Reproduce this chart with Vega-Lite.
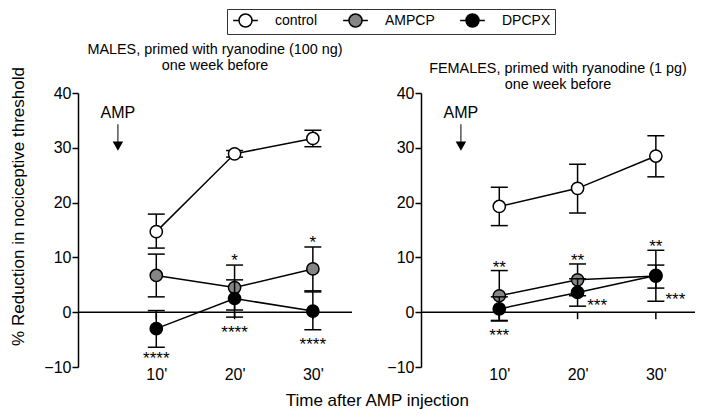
{
  "$schema": "https://vega.github.io/schema/vega-lite/v6.json",
  "background": "white",
  "autosize": {"type": "pad"},
  "padding": {"left": 8, "top": 8, "right": 0, "bottom": 0},
  "config": {
    "font": "Liberation Sans",
    "view": {"stroke": null},
    "axis": {"grid": false, "labelColor": "black", "labelFontSize": 16, "titleColor": "black", "titleFontWeight": "normal", "labelFont": "Liberation Sans", "titleFont": "Liberation Sans", "labelOverlap": false},
    "axisX": {"domain": false, "ticks": false, "tickSize": 0, "labelPadding": -1},
    "axisY": {"domainColor": "black", "domainWidth": 1.5, "tickColor": "black", "tickWidth": 1.5, "tickSize": 6, "labelPadding": 1},
    "title": {"fontSize": 14.4, "fontWeight": "normal", "color": "black", "font": "Liberation Sans"}
  },
  "datasets": {
    "series": [
      {"sex": "M", "group": "control", "t": 10, "mean": 14.7, "lo": 11.7, "hi": 17.9},
      {"sex": "M", "group": "control", "t": 20, "mean": 28.9, "lo": 28.3, "hi": 29.5},
      {"sex": "M", "group": "control", "t": 30, "mean": 31.7, "lo": 30.2, "hi": 33.2},
      {"sex": "M", "group": "AMPCP", "t": 10, "mean": 6.7, "lo": 2.8, "hi": 10.6},
      {"sex": "M", "group": "AMPCP", "t": 20, "mean": 4.5, "lo": 0.4, "hi": 8.6},
      {"sex": "M", "group": "AMPCP", "t": 30, "mean": 7.9, "lo": 3.9, "hi": 11.9},
      {"sex": "M", "group": "DPCPX", "t": 10, "mean": -3.0, "lo": -6.4, "hi": 0.3},
      {"sex": "M", "group": "DPCPX", "t": 20, "mean": 2.5, "lo": -0.9, "hi": 5.9},
      {"sex": "M", "group": "DPCPX", "t": 30, "mean": 0.2, "lo": -3.2, "hi": 3.7},
      {"sex": "F", "group": "control", "t": 10, "mean": 19.3, "lo": 15.8, "hi": 22.8},
      {"sex": "F", "group": "control", "t": 20, "mean": 22.6, "lo": 18.1, "hi": 27.0},
      {"sex": "F", "group": "control", "t": 30, "mean": 28.5, "lo": 24.7, "hi": 32.2},
      {"sex": "F", "group": "AMPCP", "t": 10, "mean": 3.0, "lo": -1.6, "hi": 7.6},
      {"sex": "F", "group": "AMPCP", "t": 20, "mean": 5.9, "lo": 3.0, "hi": 8.8},
      {"sex": "F", "group": "AMPCP", "t": 30, "mean": 6.6, "lo": 2.0, "hi": 11.3},
      {"sex": "F", "group": "DPCPX", "t": 10, "mean": 0.6, "lo": -1.5, "hi": 2.8},
      {"sex": "F", "group": "DPCPX", "t": 20, "mean": 3.6, "lo": 1.1, "hi": 6.1},
      {"sex": "F", "group": "DPCPX", "t": 30, "mean": 6.7, "lo": 4.4, "hi": 8.6}
    ],
    "ref": [
      {"t": 10, "zero": 0},
      {"t": 20, "zero": 0},
      {"t": 30, "zero": 0}
    ],
    "stars": [
      {"sex": "M", "t": 20, "y": 10.2, "label": "*"},
      {"sex": "M", "t": 30, "y": 13.5, "label": "*"},
      {"sex": "M", "t": 10, "y": -7.7, "label": "****"},
      {"sex": "M", "t": 20, "y": -2.9, "label": "****"},
      {"sex": "M", "t": 30, "y": -5.0, "label": "****"},
      {"sex": "F", "t": 10, "y": 9.0, "label": "**"},
      {"sex": "F", "t": 20, "y": 10.2, "label": "**"},
      {"sex": "F", "t": 30, "y": 12.9, "label": "**"},
      {"sex": "F", "t": 10, "y": -3.4, "label": "***"},
      {"sex": "F", "t": 22.5, "y": 2.0, "label": "***"},
      {"sex": "F", "t": 32.5, "y": 3.1, "label": "***"}
    ],
    "amp": [
      {"t": 5.1, "ty": 36.5, "a": 34.3, "b": 31.0, "tip": 30.3, "label": "AMP"}
    ]
  },
  "title": {"text": "Time after AMP injection", "orient": "bottom", "anchor": "middle", "fontSize": 17, "offset": 11, "dx": 25},
  "hconcat": [
    {
      "width": 274, "height": 274,
      "title": {"text": ["MALES, primed with ryanodine (100 ng)", "one week before"], "lineHeight": 16, "offset": -7, "anchor": "middle"},
      "layer": [
        {"data": {"name": "series"}, "transform": [{"filter": "datum.sex=='M'"}],
         "mark": {"type": "line", "color": "black", "strokeWidth": 1.5},
         "encoding": {"x": {"field": "t", "type": "quantitative", "scale": {"domain": [0, 35], "nice": false}, "axis": {"values": [10, 20, 30], "labelExpr": "datum.value + \"'\"", "title": null}},
                      "y": {"field": "mean", "type": "quantitative", "scale": {"domain": [-10, 40], "nice": false}, "axis": {"values": [-10, -5, 0, 5, 10, 15, 20, 25, 30, 35, 40], "labelOverlap": false, "title": "% Reduction in nociceptive threshold", "titleFontSize": 17, "titleAngle": 270, "titleX": -60, "titleY": 113, "titleAlign": "center", "titleBaseline": "middle"}},
                      "detail": {"field": "group"}}},
        {"data": {"name": "ref"},
         "layer": [
           {"transform": [{"filter": "datum.t==10"}], "mark": {"type": "rule", "color": "black", "strokeWidth": 1.5},
            "encoding": {"y": {"field": "zero", "type": "quantitative"}}},
           {"mark": {"type": "tick", "orient": "vertical", "color": "black", "size": 7, "thickness": 1.5, "yOffset": 3.5, "opacity": 1},
            "encoding": {"x": {"field": "t", "type": "quantitative"}, "y": {"field": "zero", "type": "quantitative"}}}
         ]},
        {"data": {"name": "series"}, "transform": [{"filter": "datum.sex=='M'"}],
         "layer": [
           {"transform": [{"filter": "datum.group=='control'"}], "mark": {"type": "rule", "color": "black", "strokeWidth": 1.5},
            "encoding": {"x": {"field": "t", "type": "quantitative"}, "y": {"field": "lo", "type": "quantitative"}, "y2": {"field": "hi"}}},
           {"transform": [{"filter": "datum.group=='control'"}], "mark": {"type": "tick", "orient": "horizontal", "color": "black", "size": 17, "thickness": 1.5, "opacity": 1},
            "encoding": {"x": {"field": "t", "type": "quantitative"}, "y": {"field": "lo", "type": "quantitative"}}},
           {"transform": [{"filter": "datum.group=='control'"}], "mark": {"type": "tick", "orient": "horizontal", "color": "black", "size": 17, "thickness": 1.5, "opacity": 1},
            "encoding": {"x": {"field": "t", "type": "quantitative"}, "y": {"field": "hi", "type": "quantitative"}}},
           {"transform": [{"filter": "datum.group=='control'"}], "mark": {"type": "point", "filled": true, "stroke": "black", "strokeWidth": 1.5, "size": 150, "opacity": 1, "fillOpacity": 1},
            "encoding": {"x": {"field": "t", "type": "quantitative"}, "y": {"field": "mean", "type": "quantitative"},
                         "fill": {"field": "group", "type": "nominal", "scale": {"domain": ["control", "AMPCP", "DPCPX"], "range": ["white", "#858585", "black"]},
                                  "legend": {"title": null, "orient": "none", "legendX": 149, "legendY": -84, "direction": "horizontal", "columns": 3, "gridAlign": "none", "symbolType": "M-1.9,0L-1,0M1,0L1.9,0M-1,0A1,1,0,1,1,1,0A1,1,0,1,1,-1,0Z", "symbolSize": 169, "symbolStrokeColor": "black", "symbolStrokeWidth": 1.5, "labelFontSize": 14, "labelColor": "black", "labelOffset": 22, "columnPadding": 22, "padding": 4, "symbolOffset": 7, "strokeColor": "#333", "fillColor": "white"}}}},
           {"transform": [{"filter": "datum.group=='AMPCP'"}], "mark": {"type": "rule", "color": "black", "strokeWidth": 1.5},
            "encoding": {"x": {"field": "t", "type": "quantitative"}, "y": {"field": "lo", "type": "quantitative"}, "y2": {"field": "hi"}}},
           {"transform": [{"filter": "datum.group=='AMPCP'"}], "mark": {"type": "tick", "orient": "horizontal", "color": "black", "size": 17, "thickness": 1.5, "opacity": 1},
            "encoding": {"x": {"field": "t", "type": "quantitative"}, "y": {"field": "lo", "type": "quantitative"}}},
           {"transform": [{"filter": "datum.group=='AMPCP'"}], "mark": {"type": "tick", "orient": "horizontal", "color": "black", "size": 17, "thickness": 1.5, "opacity": 1},
            "encoding": {"x": {"field": "t", "type": "quantitative"}, "y": {"field": "hi", "type": "quantitative"}}},
           {"transform": [{"filter": "datum.group=='AMPCP'"}], "mark": {"type": "point", "filled": true, "stroke": "black", "strokeWidth": 1.5, "size": 150, "opacity": 1, "fillOpacity": 1},
            "encoding": {"x": {"field": "t", "type": "quantitative"}, "y": {"field": "mean", "type": "quantitative"}, "fill": {"field": "group", "type": "nominal"}}},
           {"transform": [{"filter": "datum.group=='DPCPX'"}], "mark": {"type": "rule", "color": "black", "strokeWidth": 1.5},
            "encoding": {"x": {"field": "t", "type": "quantitative"}, "y": {"field": "lo", "type": "quantitative"}, "y2": {"field": "hi"}}},
           {"transform": [{"filter": "datum.group=='DPCPX'"}], "mark": {"type": "tick", "orient": "horizontal", "color": "black", "size": 17, "thickness": 1.5, "opacity": 1},
            "encoding": {"x": {"field": "t", "type": "quantitative"}, "y": {"field": "lo", "type": "quantitative"}}},
           {"transform": [{"filter": "datum.group=='DPCPX'"}], "mark": {"type": "tick", "orient": "horizontal", "color": "black", "size": 17, "thickness": 1.5, "opacity": 1},
            "encoding": {"x": {"field": "t", "type": "quantitative"}, "y": {"field": "hi", "type": "quantitative"}}},
           {"transform": [{"filter": "datum.group=='DPCPX'"}], "mark": {"type": "point", "filled": true, "stroke": "black", "strokeWidth": 1.5, "size": 150, "opacity": 1, "fillOpacity": 1},
            "encoding": {"x": {"field": "t", "type": "quantitative"}, "y": {"field": "mean", "type": "quantitative"}, "fill": {"field": "group", "type": "nominal"}}}
         ]},
        {"data": {"name": "stars"}, "transform": [{"filter": "datum.sex=='M'"}],
         "mark": {"type": "text", "fontSize": 17, "baseline": "alphabetic", "align": "center", "dy": 10, "color": "black"},
         "encoding": {"x": {"field": "t", "type": "quantitative"}, "y": {"field": "y", "type": "quantitative"}, "text": {"field": "label"}}},
        {"data": {"name": "amp"},
         "layer": [
           {"mark": {"type": "text", "fontSize": 16, "baseline": "alphabetic", "align": "center", "dy": 6, "color": "black"},
            "encoding": {"x": {"field": "t", "type": "quantitative"}, "y": {"field": "ty", "type": "quantitative"}, "text": {"field": "label"}}},
           {"mark": {"type": "rule", "color": "black", "strokeWidth": 1},
            "encoding": {"x": {"field": "t", "type": "quantitative"}, "y": {"field": "a", "type": "quantitative"}, "y2": {"field": "b"}}},
           {"mark": {"type": "point", "shape": "triangle-down", "filled": true, "color": "black", "size": 110, "opacity": 1},
            "encoding": {"x": {"field": "t", "type": "quantitative"}, "y": {"field": "tip", "type": "quantitative"}}}
         ]}
      ]
    },
    {
      "width": 274, "height": 274,
      "title": {"text": ["FEMALES, primed with ryanodine (1 pg)", "one week before"], "lineHeight": 16, "offset": -7, "anchor": "middle"},
      "layer": [
        {"data": {"name": "series"}, "transform": [{"filter": "datum.sex=='F'"}],
         "mark": {"type": "line", "color": "black", "strokeWidth": 1.5},
         "encoding": {"x": {"field": "t", "type": "quantitative", "scale": {"domain": [0, 35], "nice": false}, "axis": {"values": [10, 20, 30], "labelExpr": "datum.value + \"'\"", "title": null}},
                      "y": {"field": "mean", "type": "quantitative", "scale": {"domain": [-10, 40], "nice": false}, "axis": {"values": [-10, -5, 0, 5, 10, 15, 20, 25, 30, 35, 40], "labelOverlap": false, "title": null}},
                      "detail": {"field": "group"}}},
        {"data": {"name": "ref"},
         "layer": [
           {"transform": [{"filter": "datum.t==10"}], "mark": {"type": "rule", "color": "black", "strokeWidth": 1.5},
            "encoding": {"y": {"field": "zero", "type": "quantitative"}}},
           {"mark": {"type": "tick", "orient": "vertical", "color": "black", "size": 7, "thickness": 1.5, "yOffset": 3.5, "opacity": 1},
            "encoding": {"x": {"field": "t", "type": "quantitative"}, "y": {"field": "zero", "type": "quantitative"}}}
         ]},
        {"data": {"name": "series"}, "transform": [{"filter": "datum.sex=='F'"}],
         "layer": [
           {"transform": [{"filter": "datum.group=='control'"}], "mark": {"type": "rule", "color": "black", "strokeWidth": 1.5},
            "encoding": {"x": {"field": "t", "type": "quantitative"}, "y": {"field": "lo", "type": "quantitative"}, "y2": {"field": "hi"}}},
           {"transform": [{"filter": "datum.group=='control'"}], "mark": {"type": "tick", "orient": "horizontal", "color": "black", "size": 17, "thickness": 1.5, "opacity": 1},
            "encoding": {"x": {"field": "t", "type": "quantitative"}, "y": {"field": "lo", "type": "quantitative"}}},
           {"transform": [{"filter": "datum.group=='control'"}], "mark": {"type": "tick", "orient": "horizontal", "color": "black", "size": 17, "thickness": 1.5, "opacity": 1},
            "encoding": {"x": {"field": "t", "type": "quantitative"}, "y": {"field": "hi", "type": "quantitative"}}},
           {"transform": [{"filter": "datum.group=='control'"}], "mark": {"type": "point", "filled": true, "stroke": "black", "strokeWidth": 1.5, "size": 150, "opacity": 1, "fillOpacity": 1},
            "encoding": {"x": {"field": "t", "type": "quantitative"}, "y": {"field": "mean", "type": "quantitative"}, "fill": {"field": "group", "type": "nominal"}}},
           {"transform": [{"filter": "datum.group=='AMPCP'"}], "mark": {"type": "rule", "color": "black", "strokeWidth": 1.5},
            "encoding": {"x": {"field": "t", "type": "quantitative"}, "y": {"field": "lo", "type": "quantitative"}, "y2": {"field": "hi"}}},
           {"transform": [{"filter": "datum.group=='AMPCP'"}], "mark": {"type": "tick", "orient": "horizontal", "color": "black", "size": 17, "thickness": 1.5, "opacity": 1},
            "encoding": {"x": {"field": "t", "type": "quantitative"}, "y": {"field": "lo", "type": "quantitative"}}},
           {"transform": [{"filter": "datum.group=='AMPCP'"}], "mark": {"type": "tick", "orient": "horizontal", "color": "black", "size": 17, "thickness": 1.5, "opacity": 1},
            "encoding": {"x": {"field": "t", "type": "quantitative"}, "y": {"field": "hi", "type": "quantitative"}}},
           {"transform": [{"filter": "datum.group=='AMPCP'"}], "mark": {"type": "point", "filled": true, "stroke": "black", "strokeWidth": 1.5, "size": 150, "opacity": 1, "fillOpacity": 1},
            "encoding": {"x": {"field": "t", "type": "quantitative"}, "y": {"field": "mean", "type": "quantitative"}, "fill": {"field": "group", "type": "nominal"}}},
           {"transform": [{"filter": "datum.group=='DPCPX'"}], "mark": {"type": "rule", "color": "black", "strokeWidth": 1.5},
            "encoding": {"x": {"field": "t", "type": "quantitative"}, "y": {"field": "lo", "type": "quantitative"}, "y2": {"field": "hi"}}},
           {"transform": [{"filter": "datum.group=='DPCPX'"}], "mark": {"type": "tick", "orient": "horizontal", "color": "black", "size": 17, "thickness": 1.5, "opacity": 1},
            "encoding": {"x": {"field": "t", "type": "quantitative"}, "y": {"field": "lo", "type": "quantitative"}}},
           {"transform": [{"filter": "datum.group=='DPCPX'"}], "mark": {"type": "tick", "orient": "horizontal", "color": "black", "size": 17, "thickness": 1.5, "opacity": 1},
            "encoding": {"x": {"field": "t", "type": "quantitative"}, "y": {"field": "hi", "type": "quantitative"}}},
           {"transform": [{"filter": "datum.group=='DPCPX'"}], "mark": {"type": "point", "filled": true, "stroke": "black", "strokeWidth": 1.5, "size": 150, "opacity": 1, "fillOpacity": 1},
            "encoding": {"x": {"field": "t", "type": "quantitative"}, "y": {"field": "mean", "type": "quantitative"}, "fill": {"field": "group", "type": "nominal"}}}
         ]},
        {"data": {"name": "stars"}, "transform": [{"filter": "datum.sex=='F'"}],
         "mark": {"type": "text", "fontSize": 17, "baseline": "alphabetic", "align": "center", "dy": 10, "color": "black"},
         "encoding": {"x": {"field": "t", "type": "quantitative"}, "y": {"field": "y", "type": "quantitative"}, "text": {"field": "label"}}},
        {"data": {"name": "amp"},
         "layer": [
           {"mark": {"type": "text", "fontSize": 16, "baseline": "alphabetic", "align": "center", "dy": 6, "color": "black"},
            "encoding": {"x": {"field": "t", "type": "quantitative"}, "y": {"field": "ty", "type": "quantitative"}, "text": {"field": "label"}}},
           {"mark": {"type": "rule", "color": "black", "strokeWidth": 1},
            "encoding": {"x": {"field": "t", "type": "quantitative"}, "y": {"field": "a", "type": "quantitative"}, "y2": {"field": "b"}}},
           {"mark": {"type": "point", "shape": "triangle-down", "filled": true, "color": "black", "size": 110, "opacity": 1},
            "encoding": {"x": {"field": "t", "type": "quantitative"}, "y": {"field": "tip", "type": "quantitative"}}}
         ]}
      ]
    }
  ],
  "spacing": 33
}
